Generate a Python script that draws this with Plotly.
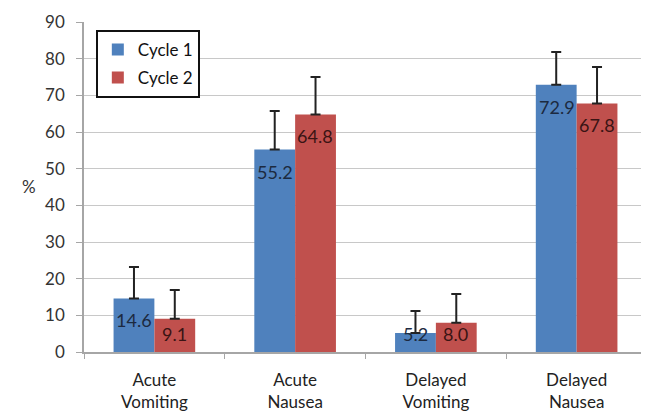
import plotly.graph_objects as go

categories = ["Acute<br>Vomiting", "Acute<br>Nausea", "Delayed<br>Vomiting", "Delayed<br>Nausea"]
cycle1 = [14.6, 55.2, 5.2, 72.9]
cycle2 = [9.1, 64.8, 8.0, 67.8]
cycle1_err = [8.6, 10.5, 6.0, 8.9]
cycle2_err = [7.8, 10.2, 7.8, 9.9]
y_ticks = [0, 10, 20, 30, 40, 50, 60, 70, 80, 90]

FONT = "Lato, Open Sans, sans-serif"
BLUE = "#4f81bd"
RED = "#c0504d"

# page body has an 8px margin; compensate so the figure lands where the reference is
W, H = 641, 404
ML, MR, MT, MB = 76, 2, 14, 60
plot_w = W - ML - MR
plot_h = H - MT - MB
Y_MAX = 90
px_per_unit = plot_h / Y_MAX

fig = go.Figure()
fig.add_trace(go.Bar(
    x=categories, y=cycle1, name="Cycle 1", marker_color=BLUE,
    marker_line_width=0, legendgroup="a",
    error_y=dict(type="data", array=cycle1_err, symmetric=False, arrayminus=[0]*4,
                 color="#222222", thickness=2, width=5),
))
fig.add_trace(go.Bar(
    x=categories, y=cycle2, name="Cycle 2", marker_color=RED,
    marker_line_width=0, legendgroup="b",
    error_y=dict(type="data", array=cycle2_err, symmetric=False, arrayminus=[0]*4,
                 color="#222222", thickness=2, width=5),
))


def label_shift(v):
    top = v * px_per_unit
    center = max(top - 22, 18)
    return center - top


for cat, v in zip(categories, cycle1):
    fig.add_annotation(x=cat, y=v, xref="x", yref="y", text=f"{v:.1f}", showarrow=False,
                       xshift=-20, yshift=label_shift(v),
                       font=dict(family=FONT, size=18, color="#1c2a40"))
for cat, v in zip(categories, cycle2):
    fig.add_annotation(x=cat, y=v, xref="x", yref="y", text=f"{v:.1f}", showarrow=False,
                       xshift=20, yshift=label_shift(v),
                       font=dict(family=FONT, size=18, color="#3a1414"))

fig.add_annotation(x=(12 - ML) / plot_w, y=(344 - 178) / plot_h, xref="paper", yref="paper",
                   text="%", showarrow=False,
                   font=dict(family=FONT, size=17, color="#333333"))

fig.update_layout(
    width=W, height=H,
    margin=dict(l=ML, r=MR, t=MT, b=MB, autoexpand=False),
    paper_bgcolor="white", plot_bgcolor="white",
    barmode="group", bargap=0.42, bargroupgap=0,
    font=dict(family=FONT, size=17, color="#333333"),
    showlegend=True,
    legend=dict(x=0.021, y=0.976, xanchor="left", yanchor="top",
                bordercolor="#111111", borderwidth=2, bgcolor="white",
                font=dict(family=FONT, size=17, color="#111111"),
                itemwidth=30, tracegroupgap=3),
    xaxis=dict(showline=True, linecolor="#a6a6a6", linewidth=1.5, automargin=False,
               ticks="outside", tickson="boundaries", ticklen=5, tickcolor="#a6a6a6",
               tickfont=dict(family=FONT, size=17, color="#222222"),
               ticklabelstandoff=12),
    yaxis=dict(range=[0, Y_MAX], tickvals=y_ticks, showgrid=True, gridcolor="#c8c8c8",
               gridwidth=1, showline=True, linecolor="#a6a6a6", linewidth=1.5,
               automargin=False,
               ticks="outside", ticklen=6, tickcolor="#a6a6a6",
               tickfont=dict(family=FONT, size=17, color="#333333"),
               ticklabelstandoff=8, zeroline=False),
)

fig.write_html("out.html")
